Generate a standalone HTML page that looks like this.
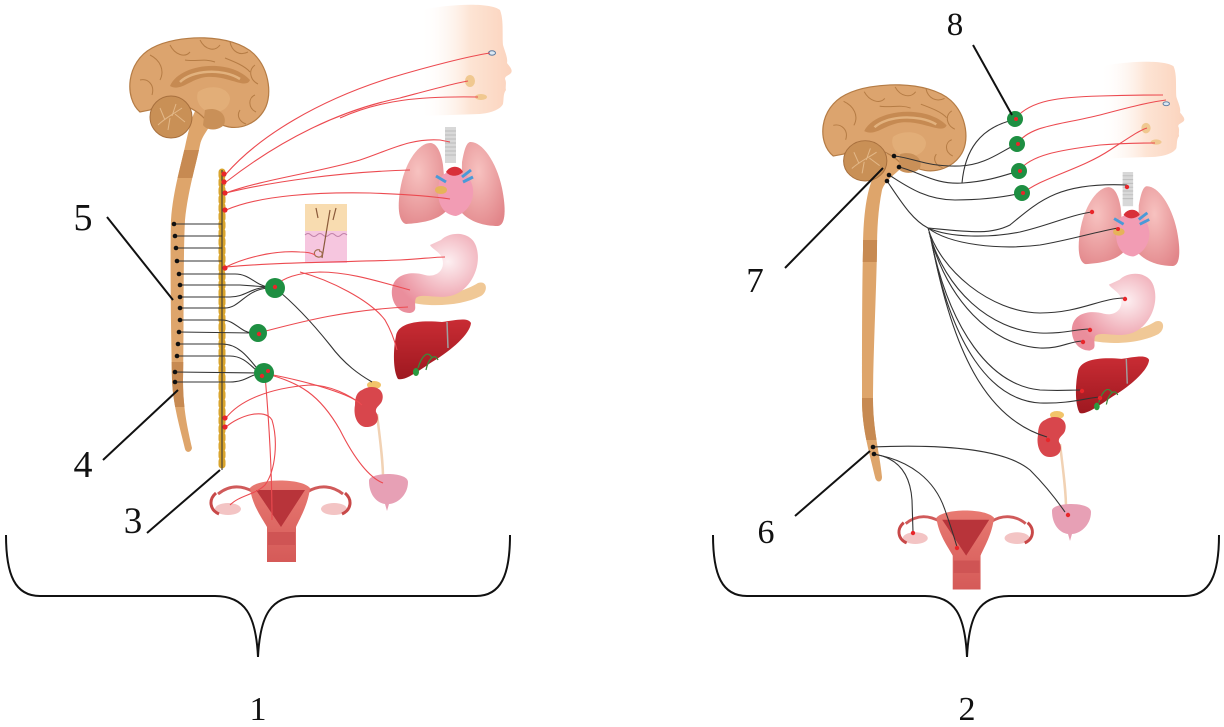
<!DOCTYPE html>
<html><head><meta charset="utf-8">
<style>
html,body{margin:0;padding:0;background:#fff;}
svg{display:block;}
text{font-family:"Liberation Serif",serif;fill:#111;}
</style></head><body>
<svg width="1224" height="727" viewBox="0 0 1224 727" xmlns="http://www.w3.org/2000/svg">
<defs>
 <linearGradient id="faceG" x1="0" x2="1" y1="0" y2="0">
  <stop offset="0" stop-color="#fff" stop-opacity="0"/>
  <stop offset="0.55" stop-color="#fde4d4"/>
  <stop offset="1" stop-color="#fbd3bd"/>
 </linearGradient>
 <radialGradient id="lungG" cx="0.4" cy="0.35" r="0.75">
  <stop offset="0" stop-color="#f7c2c0"/>
  <stop offset="1" stop-color="#e2868a"/>
 </radialGradient>
 <radialGradient id="stomG" cx="0.65" cy="0.35" r="0.65">
  <stop offset="0" stop-color="#fdf0f2"/>
  <stop offset="1" stop-color="#ea8e9c"/>
 </radialGradient>
 <linearGradient id="livG" x1="0" y1="0" x2="0" y2="1">
  <stop offset="0" stop-color="#c92c34"/>
  <stop offset="1" stop-color="#9e1820"/>
 </linearGradient>
 <linearGradient id="utG" x1="0" y1="0" x2="0" y2="1">
  <stop offset="0" stop-color="#e87a72"/>
  <stop offset="1" stop-color="#d55a58"/>
 </linearGradient>

 <g id="brain">
  <path d="M140,112 C124,98 126,62 152,48 C178,34 232,33 254,54 C270,70 273,98 263,112 C255,124 241,129 229,127 C219,125 212,121 205,119 C190,103 165,98 150,110 Z" fill="#dca46e" stroke="#b57c45" stroke-width="1.2"/>
  <path d="M150,55 C160,60 165,70 160,80 M170,45 C175,55 185,58 190,52 M200,40 C205,50 215,52 220,45 M230,42 C232,52 240,56 248,52 M255,65 C248,70 250,80 258,84 M140,80 C148,78 155,85 152,95 M185,60 C195,62 205,58 215,62 M225,58 C235,62 245,66 250,72 M255,95 C248,98 248,108 256,112 M240,110 C236,116 240,122 246,124" stroke="#b57c45" stroke-width="1" fill="none"/>
  <path d="M170,86 C180,63 230,58 250,80 C246,90 228,75 206,77 C190,79 181,92 170,86 Z" fill="#c68a52"/>
  <path d="M180,82 C192,70 222,68 240,79" stroke="#e2b27e" stroke-width="2.5" fill="none"/>
  <path d="M198,92 C208,84 228,86 230,98 C230,108 220,114 210,112 C200,110 195,100 198,92 Z" fill="#e2ae78"/>
  <path d="M205,110 C217,106 228,114 224,125 C217,132 206,130 203,125 Z" fill="#c99058"/>
  <circle cx="171" cy="117" r="21" fill="#c99056" stroke="#a8703e" stroke-width="1"/>
  <path d="M158,125 C165,118 172,115 182,108 M165,120 L160,108 M172,116 L176,104 M170,118 L168,130 M175,114 L185,122" stroke="#e3b888" stroke-width="1" fill="none"/>
 </g>

 <g id="face">
  <path d="M420,10 C450,4 490,2 500,10 C504,20 502,35 503,45 C505,52 508,58 507,63 C510,67 513,70 511,73 C508,76 505,76 505,79 C507,83 505,87 506,90 C503,94 504,98 503,104 C500,110 490,113 480,114 L420,116 Z" fill="url(#faceG)"/>
  <ellipse cx="492" cy="53" rx="3.5" ry="2.2" fill="#dbe8f3" stroke="#5a7aa0" stroke-width="1"/>
  <ellipse cx="470" cy="81" rx="5" ry="6" fill="#f0c890"/>
  <ellipse cx="481" cy="97" rx="6" ry="3" fill="#f0c890"/>
 </g>

 <g id="lungs">
  <rect x="445" y="127" width="11" height="36" fill="#d8d8d8"/>
  <path d="M445,131h11M445,135h11M445,139h11M445,143h11M445,147h11M445,151h11M445,155h11" stroke="#bdbdbd" stroke-width="1"/>
  <path d="M431,143 C420,142 406,160 401,185 C397,205 398,222 406,224 C420,223 438,221 447,210 L443,165 C441,152 437,144 431,143 Z" fill="url(#lungG)"/>
  <path d="M470,142 C481,141 496,160 502,188 C506,208 506,225 498,226 C484,226 470,222 461,212 L462,162 C464,151 466,143 470,142 Z" fill="url(#lungG)"/>
  <path d="M439,182 C442,168 464,168 470,180 C478,194 470,212 456,216 C444,215 435,204 439,182 Z" fill="#f29cb4"/>
  <path d="M446,172 C450,165 460,165 463,172 C458,177 450,177 446,172 Z" fill="#d8303a"/>
  <path d="M436,176 L446,182 M462,177 L471,170 M463,182 L473,177" stroke="#4a9ad8" stroke-width="3" fill="none"/>
  <ellipse cx="441" cy="190" rx="6" ry="4" fill="#e6b35a"/>
 </g>

 <g id="stomach">
  <path d="M405,291 C430,300 460,294 478,283 C488,280 488,292 481,296 C461,306 428,308 405,301 Z" fill="#f0c896"/>
  <path d="M441,240 C450,231 471,231 476,246 C483,266 470,292 450,296 C436,299 421,293 416,298 C413,305 419,311 410,313 C395,313 389,296 393,285 C397,274 411,271 425,275 C437,278 446,269 442,258 C440,252 432,249 430,245 Z" fill="url(#stomG)"/>
 </g>

 <g id="liver">
  <path d="M396,336 C398,322 420,320 442,322 C456,320 468,317 471,323 C470,334 452,350 432,362 C417,372 405,381 398,379 C393,371 393,350 396,336 Z" fill="url(#livG)"/>
  <path d="M447,322 L448,348" stroke="#a0a0a0" stroke-width="1.5"/>
  <path d="M418,368 C422,355 428,350 432,358 M426,370 C428,360 434,352 438,360" stroke="#3a8a3a" stroke-width="1.3" fill="none"/>
  <ellipse cx="416" cy="372" rx="3" ry="4" fill="#2a9a40"/>
 </g>

 <g id="kb">
  <path d="M377,414 C380,440 383,460 383,478" stroke="#f1d2b4" stroke-width="2.5" fill="none"/>
  <ellipse cx="374" cy="385" rx="7" ry="4" fill="#f2c46a"/>
  <path d="M362,390 C373,383 386,389 382,401 C380,406 375,407 376,412 C380,418 378,426 368,427 C357,428 353,415 355,405 C355,397 357,392 362,390 Z" fill="#d8464c"/>
  <path d="M369,481 C368,472 408,471 408,482 C408,496 396,504 389,504 L387,511 L385,504 C377,503 369,495 369,481 Z" fill="#e7a0b5"/>
 </g>

 <g id="uterus">
  <path d="M254,492 C240,484 228,486 218,494" stroke="#d05a5a" stroke-width="3" fill="none"/>
  <path d="M307,492 C320,484 333,486 343,494" stroke="#d05a5a" stroke-width="3" fill="none"/>
  <ellipse cx="228" cy="509" rx="13" ry="6" fill="#f3c4c4"/>
  <ellipse cx="334" cy="509" rx="13" ry="6" fill="#f3c4c4"/>
  <path d="M216,493 C208,500 210,510 219,514" stroke="#c84848" stroke-width="3" fill="none"/>
  <path d="M345,493 C353,500 351,510 342,514" stroke="#c84848" stroke-width="3" fill="none"/>
  <path d="M250,488 C258,478 302,478 310,488 C308,505 300,518 296,527 L296,562 L267,562 L267,527 C262,518 252,505 250,488 Z" fill="url(#utG)"/>
  <path d="M256,490 L305,490 L281,527 Z" fill="#b8343a"/>
  <path d="M268,532 L295,532 L295,545 L268,545 Z" fill="#cf5454"/>
 </g>

 <path id="cordL" d="M200,105 C210,102 216,108 214,118 C210,128 202,135 200,145 C196,165 188,190 185,220 C183,260 184,330 183,380 C183,410 188,430 192,448 C191,453 186,453 185,449 C180,428 173,405 172,380 C171,330 170,260 171,220 C173,190 182,162 186,142 C190,125 193,110 200,105 Z"/>
 <path id="cordR" d="M893,148 C903,145 910,152 906,162 C900,172 886,178 882,190 C878,210 877,230 877,250 C876,300 873,360 873,400 C873,430 880,455 882,477 C882,483 876,483 875,477 C870,455 862,430 862,400 C862,350 862,290 863,250 C863,220 866,195 872,180 C878,166 885,152 893,148 Z"/>
 <clipPath id="clipL"><rect x="0" y="150" width="400" height="28"/><rect x="0" y="362" width="400" height="45"/></clipPath>
 <clipPath id="clipR"><rect x="800" y="240" width="200" height="22"/><rect x="800" y="398" width="200" height="42"/></clipPath>
</defs>

<!-- ================= LEFT PANEL ================= -->
<use href="#face"/>
<use href="#cordL" fill="#dea56b"/>
<use href="#cordL" fill="#c78a52" clip-path="url(#clipL)"/>
<use href="#brain"/>

<use href="#lungs"/>
<use href="#stomach"/>
<use href="#liver"/>
<use href="#kb"/>
<use href="#uterus"/>

<!-- skin sample -->
<rect x="305" y="204" width="42" height="27" fill="#f8dcb0"/>
<rect x="305" y="231" width="42" height="32" fill="#f6c6df"/>
<path d="M305,235 q3,-3 6,0 t6,0 t6,0 t6,0 t6,0 t6,0 t6,0" stroke="#c080a8" stroke-width="1" fill="none"/>
<path d="M330,210 L322,258 M336,208 L333,220 M316,208 L318,218" stroke="#8a5a3a" stroke-width="1.2" fill="none"/>
<path d="M320,250 c-6,-2 -8,6 -2,7 c5,1 6,-6 1,-6" stroke="#a07050" stroke-width="1.2" fill="none"/>

<!-- sympathetic chain -->
<line x1="222" y1="172" x2="222" y2="468" stroke="#d9a42c" stroke-width="7" stroke-dasharray="4 4.5" stroke-linecap="round"/>
<line x1="222" y1="170" x2="222" y2="470" stroke="#3a3a3a" stroke-width="1.1"/>

<!-- black preganglionic lines left -->
<g stroke="#333" stroke-width="1.1" fill="none">
 <path d="M174,224 H222 M175,236 H222 M176,248 H222 M177,261 H222"/>
 <path d="M179,274 H235 C250,274 255,285 268,287"/>
 <path d="M180,285 H240 L268,287"/>
 <path d="M180,297 H230 C245,297 250,288 268,287"/>
 <path d="M180,308 H225 C240,308 245,290 268,288"/>
 <path d="M180,320 H222 C235,320 240,332 252,333"/>
 <path d="M179,332 L252,333"/>
 <path d="M178,344 H222 C240,344 250,360 260,372"/>
 <path d="M177,356 H230 C245,356 252,368 260,373"/>
 <path d="M175,372 L258,373"/>
 <path d="M175,382 H230 C245,382 250,375 258,374"/>
 <path d="M275,288 C290,300 310,320 330,345 C345,365 360,375 372,382"/>
</g>
<g fill="#111">
 <circle cx="174" cy="224" r="2.3"/><circle cx="175" cy="236" r="2.3"/><circle cx="176" cy="248" r="2.3"/><circle cx="177" cy="261" r="2.3"/>
 <circle cx="179" cy="274" r="2.3"/><circle cx="180" cy="285" r="2.3"/><circle cx="180" cy="297" r="2.3"/><circle cx="180" cy="308" r="2.3"/>
 <circle cx="180" cy="320" r="2.3"/><circle cx="179" cy="332" r="2.3"/><circle cx="178" cy="344" r="2.3"/><circle cx="177" cy="356" r="2.3"/>
 <circle cx="175" cy="372" r="2.3"/><circle cx="175" cy="382" r="2.3"/>
</g>

<!-- red postganglionic lines left -->
<g stroke="#ec4a50" stroke-width="1.1" fill="none">
 <path d="M226,174 C260,135 320,100 390,78 C430,66 470,56 490,53"/>
 <path d="M226,182 C280,140 340,110 400,98 C430,90 455,83 468,81"/>
 <path d="M340,118 C380,100 420,96 478,97"/>
 <path d="M226,193 C260,180 320,172 360,160 C390,150 410,138 440,140 L450,142"/>
 <path d="M226,193 C270,182 340,172 410,170"/>
 <path d="M226,210 C260,195 320,192 370,193 C400,194 430,196 450,199"/>
 <path d="M226,267 C240,260 270,250 300,252 C308,252 312,253 315,255"/>
 <path d="M226,267 C280,262 350,262 400,260 C420,259 435,257 445,257"/>
 <path d="M275,285 C285,278 295,273 320,272 C350,272 380,282 410,290"/>
 <path d="M300,272 C330,280 370,300 385,320 C392,332 395,342 397,350"/>
 <path d="M258,333 C290,325 340,310 408,307"/>
 <path d="M263,373 C290,378 320,385 345,395 C352,398 356,400 360,403"/>
 <path d="M263,373 C300,382 320,395 340,430 C355,460 370,478 383,483"/>
 <path d="M265,375 C268,410 272,470 272,520"/>
 <path d="M226,418 C240,400 270,388 310,385 C330,385 350,395 362,405"/>
 <path d="M226,427 C240,415 265,408 272,420 C278,440 276,470 265,485 C255,495 240,495 230,505"/>
</g>
<g fill="#e8262a">
 <circle cx="224" cy="174" r="2.6"/><circle cx="224" cy="182" r="2.6"/><circle cx="225" cy="193" r="2.6"/><circle cx="225" cy="210" r="2.6"/>
 <circle cx="225" cy="268" r="2.6"/><circle cx="225" cy="418" r="2.6"/><circle cx="225" cy="427" r="2.6"/>
</g>
<g fill="#1e8f42">
 <circle cx="275" cy="288" r="10"/><circle cx="258" cy="333" r="9"/><circle cx="264" cy="373" r="10"/>
</g>
<g fill="#e8262a">
 <circle cx="275" cy="287" r="2.2"/><circle cx="259" cy="334" r="2.2"/><circle cx="262" cy="376" r="2.2"/><circle cx="268" cy="371" r="2"/>
</g>

<!-- ================= RIGHT PANEL ================= -->
<use href="#face" transform="translate(1100,62) scale(0.92,0.87) translate(-420,-5)"/>
<use href="#cordR" fill="#dea56b"/>
<use href="#cordR" fill="#c78a52" clip-path="url(#clipR)"/>
<use href="#brain" transform="translate(823,85) scale(1.03,0.96) translate(-130,-38)"/>

<use href="#lungs" transform="translate(1078,172) scale(0.95) translate(-398,-127)"/>
<use href="#stomach" transform="translate(1072,272) scale(0.97) translate(-392,-232)"/>
<use href="#liver" transform="translate(1075,357) scale(0.95) translate(-393,-320)"/>
<use href="#kb" transform="translate(683,30)"/>
<use href="#uterus" transform="translate(898,510) scale(0.96,0.97) translate(-210,-480)"/>

<g stroke="#333" stroke-width="1.1" fill="none">
 <path d="M894,156 C915,158 925,167 960,166 C985,165 1000,152 1015,145"/>
 <path d="M962,183 C965,150 980,128 1013,120"/>
 <path d="M899,167 C920,172 935,185 963,183 C990,181 1005,175 1019,171"/>
 <path d="M889,175 C905,185 925,200 955,200 C985,200 1005,197 1022,193"/>
 <path d="M887,181 C900,200 912,220 928,228"/>
 <path d="M928,228 C970,232 990,235 1010,225 C1040,200 1060,182 1127,185"/>
 <path d="M928,228 C950,238 990,238 1020,232 C1050,225 1070,215 1092,212"/>
 <path d="M928,228 C950,245 1000,250 1040,245 C1070,240 1095,232 1118,228"/>
 <path d="M928,228 C940,270 990,312 1040,313 C1080,313 1100,298 1125,298"/>
 <path d="M929,232 C945,290 990,330 1040,333 C1065,334 1075,329 1090,329"/>
 <path d="M930,236 C948,300 990,345 1040,348 C1060,349 1070,341 1083,341"/>
 <path d="M931,240 C950,330 990,385 1040,390 C1060,391 1070,390 1082,390"/>
 <path d="M932,244 C952,345 990,400 1040,403 C1070,404 1085,398 1100,397"/>
 <path d="M933,248 C955,360 990,420 1047,437"/>
 <path d="M872,447 C920,445 1000,445 1030,470 C1050,490 1060,505 1065,512"/>
 <path d="M873,454 C895,457 910,470 912,500 L913,532"/>
 <path d="M873,454 C910,460 935,480 945,510 C952,530 955,540 957,547"/>
</g>
<g fill="#111">
 <circle cx="894" cy="156" r="2.3"/><circle cx="899" cy="167" r="2.3"/><circle cx="889" cy="175" r="2.3"/><circle cx="887" cy="181" r="2.3"/>
 <circle cx="873" cy="447" r="2.3"/><circle cx="874" cy="454" r="2.3"/>
</g>
<g stroke="#ec4a50" stroke-width="1.1" fill="none">
 <path d="M1015,119 C1030,100 1060,97 1100,96 C1130,95 1150,95 1163,95"/>
 <path d="M1017,144 C1030,125 1060,125 1100,115 C1130,107 1150,102 1166,100"/>
 <path d="M1019,171 C1030,155 1060,150 1100,145 C1125,143 1140,143 1155,143"/>
 <path d="M1022,194 C1040,178 1080,170 1110,150 C1130,137 1140,130 1147,128"/>
</g>
<g fill="#1e8f42">
 <circle cx="1015" cy="119" r="8"/><circle cx="1017" cy="144" r="8"/><circle cx="1019" cy="171" r="8"/><circle cx="1022" cy="193" r="8"/>
</g>
<g fill="#e8262a">
 <circle cx="1016" cy="119" r="2"/><circle cx="1018" cy="144" r="2"/><circle cx="1020" cy="171" r="2"/><circle cx="1023" cy="193" r="2"/>
 <circle cx="1127" cy="187" r="2.2"/><circle cx="1092" cy="212" r="2.2"/><circle cx="1118" cy="229" r="2"/>
 <circle cx="1125" cy="299" r="2.2"/><circle cx="1090" cy="330" r="2.2"/><circle cx="1083" cy="342" r="2.2"/>
 <circle cx="1082" cy="391" r="2.2"/><circle cx="1100" cy="398" r="2.2"/><circle cx="1048" cy="440" r="2.2"/>
 <circle cx="1068" cy="515" r="2.2"/><circle cx="913" cy="533" r="2.2"/><circle cx="957" cy="548" r="2.2"/>
</g>

<!-- ================= LABELS & LEADERS ================= -->
<g stroke="#111" stroke-width="2" fill="none">
 <path d="M107,217 L173,300"/>
 <path d="M103,460 L178,390"/>
 <path d="M147,533 L220,470"/>
 <path d="M785,268 L883,168"/>
 <path d="M973,45 L1012,115"/>
 <path d="M795,516 L870,451"/>
</g>
<text x="83" y="230" font-size="38" text-anchor="middle">5</text>
<text x="83" y="477" font-size="38" text-anchor="middle">4</text>
<text x="133" y="533" font-size="37" text-anchor="middle">3</text>
<text x="755" y="292" font-size="35" text-anchor="middle">7</text>
<text x="766" y="543" font-size="34" text-anchor="middle">6</text>
<text x="955" y="35" font-size="33" text-anchor="middle">8</text>

<g stroke="#111" stroke-width="2" fill="none">
 <path d="M6,535 C6,575 15,596 40,596 L215,596 C245,596 256,615 258,657 C260,615 271,596 301,596 L476,596 C501,596 510,575 510,535"/>
 <path d="M713,535 C713,575 722,596 747,596 L925,596 C955,596 965,615 967,657 C969,615 979,596 1009,596 L1185,596 C1210,596 1219,575 1219,535"/>
</g>
<text x="258" y="720" font-size="34" text-anchor="middle">1</text>
<text x="967" y="720" font-size="34" text-anchor="middle">2</text>
</svg>
</body></html>
